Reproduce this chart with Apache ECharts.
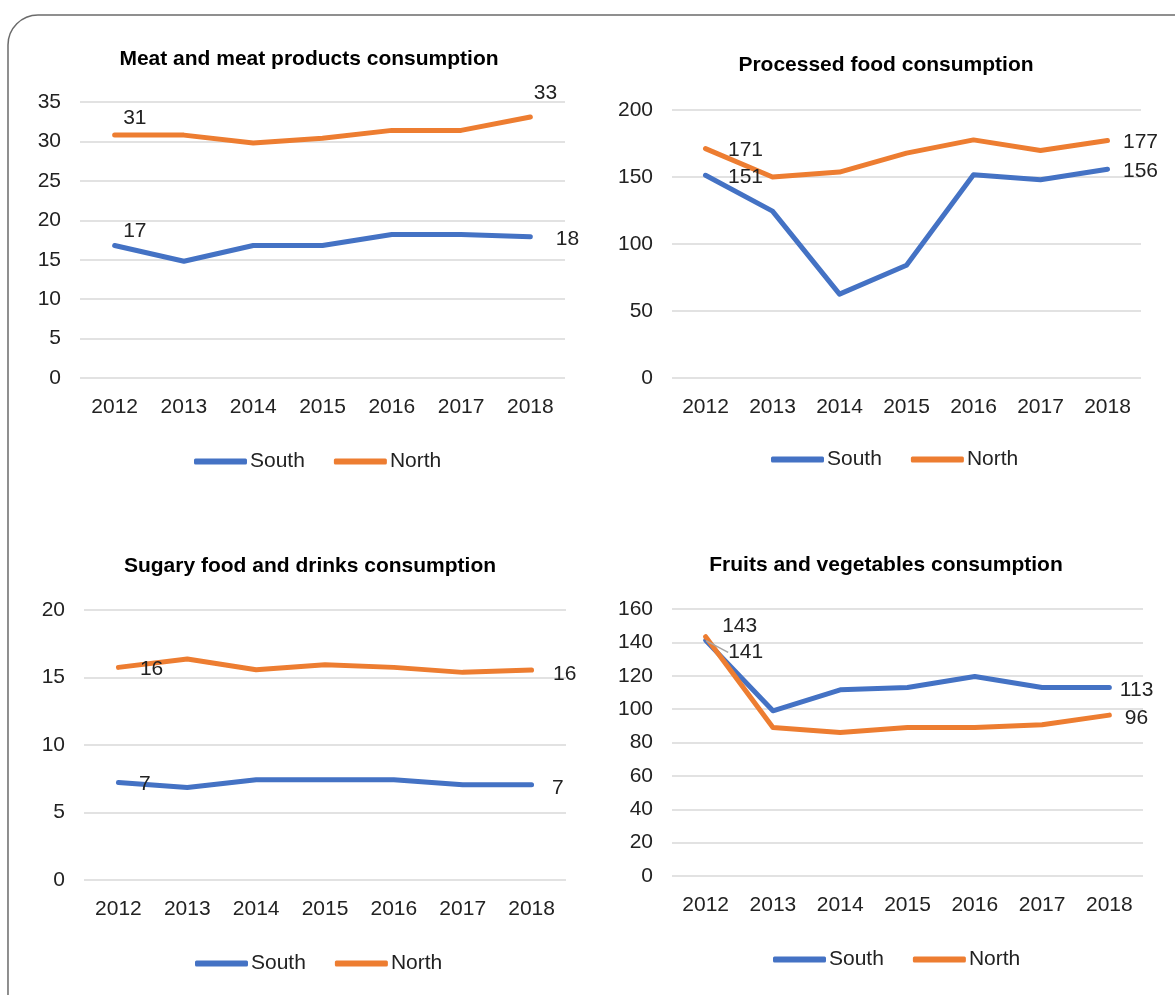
<!DOCTYPE html>
<html>
<head>
<meta charset="utf-8">
<script src="https://cdn.jsdelivr.net/npm/echarts@6/dist/echarts.min.js"></script>
<style>
html,body{margin:0;padding:0;background:#fff;}
#chart{width:1175px;height:995px;}
</style>
</head>
<body>
<div id="chart"></div>
<script>
const years = ['2012','2013','2014','2015','2016','2017','2018'];

const meatTitle = 'Meat and meat products consumption';
const meatSouth = [16.8, 14.8, 16.8, 16.8, 18.2, 18.2, 17.9];
const meatNorth = [30.8, 30.8, 29.8, 30.4, 31.4, 31.4, 33.1];
const meatTicks = [0, 35, 5];

const procTitle = 'Processed food consumption';
const procSouth = [151.3, 124.5, 62.6, 84.1, 151.7, 148, 155.8];
const procNorth = [171.2, 150, 153.7, 167.8, 177.7, 169.8, 177.2];
const procTicks = [0, 200, 50];

const sugarTitle = 'Sugary food and drinks consumption';
const sugarSouth = [7.22, 6.85, 7.42, 7.42, 7.42, 7.05, 7.05];
const sugarNorth = [15.75, 16.37, 15.58, 15.95, 15.75, 15.38, 15.55];
const sugarTicks = [0, 20, 5];

const fruitTitle = 'Fruits and vegetables consumption';
const fruitSouth = [141.2, 99, 111.6, 113, 119.6, 113, 113];
const fruitNorth = [143.4, 89, 86, 89, 89, 90.6, 96.4];
const fruitTicks = [0, 160, 20];

const BLUE = '#4472C4', ORANGE = '#ED7D31';
const FONT = '"Liberation Sans", Arial, sans-serif';

const panels = [
  {title: meatTitle, south: meatSouth, north: meatNorth, ticks: meatTicks,
   grid: {left: 80, right: 610, top: 102, bottom: 617}, titlePos: [304, 57], legendY: 460, legendX: 311,
   labels: {south: [[8, -14], [25, 2]], north: [[8, -17], [3, -24]]}},
  {title: procTitle, south: procSouth, north: procNorth, ticks: procTicks,
   grid: {left: 672, right: 34, top: 110, bottom: 617}, titlePos: [881, 63], legendY: 458, legendX: 888,
   labels: {south: [[22, 2], [15, 2]], north: [[22, 2], [15, 2]]}},
  {title: sugarTitle, south: sugarSouth, north: sugarNorth, ticks: sugarTicks,
   grid: {left: 84, right: 609, top: 610, bottom: 115}, titlePos: [305, 564], legendY: 962, legendX: 312,
   labels: {south: [[20, 2], [20, 3]], north: [[21, 2], [21, 4]]}},
  {title: fruitTitle, south: fruitSouth, north: fruitNorth, ticks: fruitTicks,
   grid: {left: 672, right: 32, top: 609, bottom: 119}, titlePos: [881, 563], legendY: 958, legendX: 890,
   labels: {south: [null, [0, 0]], north: [[16, -10], [15, 3]]}, leader: true}
];

const option = {
  animation: false,
  backgroundColor: '#fff',
  textStyle: {fontFamily: FONT},
  title: [], legend: [], grid: [], xAxis: [], yAxis: [], series: [],
  graphic: [{
    type: 'rect', shape: {x: 8, y: 15, width: 1200, height: 1010, r: 30},
    style: {fill: 'none', stroke: '#6b6b6b', lineWidth: 1.5}, silent: true, z: -1
  }]
};

function mkData(vals, offs) {
  return vals.map((v, i) => {
    if (i === 0 || i === vals.length - 1) {
      const o = i === 0 ? offs[0] : offs[1];
      if (o === null) {
        return {value: v, label: {show: true}, labelLine: {show: true}};
      }
      return {value: v, label: {show: true, offset: o}};
    }
    return v;
  });
}

panels.forEach((p, k) => {
  option.title.push({
    text: p.title, left: p.titlePos[0], top: p.titlePos[1] - 3, textAlign: 'center', textVerticalAlign: 'middle',
    textStyle: {fontFamily: FONT, fontWeight: 'bold', fontSize: 21, color: '#000'}
  });
  option.legend.push({
    data: ['South', 'North'], left: p.legendX - 122, top: p.legendY - 14, orient: 'horizontal',
    itemWidth: 53, itemHeight: 6, itemGap: 29, icon: 'roundRect',
    textStyle: {fontFamily: FONT, fontSize: 21, color: '#222', padding: [0, 0, 0, -2]},
    selectedMode: false
  });
  option.grid.push(Object.assign({containLabel: false}, p.grid));
  option.xAxis.push({
    type: 'category', gridIndex: k, data: years, boundaryGap: true,
    axisLine: {show: false}, axisTick: {show: false},
    axisLabel: {fontFamily: FONT, fontSize: 21, color: '#222', margin: 19}
  });
  option.yAxis.push({
    type: 'value', gridIndex: k, min: p.ticks[0], max: p.ticks[1], interval: p.ticks[2],
    axisLine: {show: false}, axisTick: {show: false},
    axisLabel: {fontFamily: FONT, fontSize: 21, color: '#222', margin: 19},
    splitLine: {lineStyle: {color: '#d9d9d9', width: 1.5}}
  });
  const base = {
    type: 'line', xAxisIndex: k, yAxisIndex: k, symbol: 'circle', symbolSize: 1, showSymbol: true,
    lineStyle: {width: 5, cap: 'round', join: 'round'},
    label: {show: false, position: 'right', distance: 0, fontFamily: FONT, fontSize: 21, color: '#222',
            formatter: q => String(Math.round(q.value))}
  };
  const south = Object.assign({}, base, {
    name: 'South', color: BLUE, itemStyle: {color: BLUE}, lineStyle: Object.assign({color: BLUE}, base.lineStyle),
    data: mkData(p.south, p.labels.south)
  });
  if (p.leader) {
    south.labelLine = {show: false, lineStyle: {color: '#a6a6a6', width: 1.5}, smooth: false, length2: 0};
    south.labelLayout = function (params) {
      if (params.dataIndex === 0) {
        return {dx: 22, dy: 12};
      }
      if (params.dataIndex === fruitSouth.length - 1) {
        return {dx: 10, dy: 3};
      }
      return {};
    };
  }
  option.series.push(south);
  option.series.push(Object.assign({}, base, {
    name: 'North', color: ORANGE, itemStyle: {color: ORANGE}, lineStyle: Object.assign({color: ORANGE}, base.lineStyle),
    data: mkData(p.north, p.labels.north)
  }));
});

const chart = echarts.init(document.getElementById('chart'), null, {renderer: 'canvas'});
chart.setOption(option);
</script>
</body>
</html>
